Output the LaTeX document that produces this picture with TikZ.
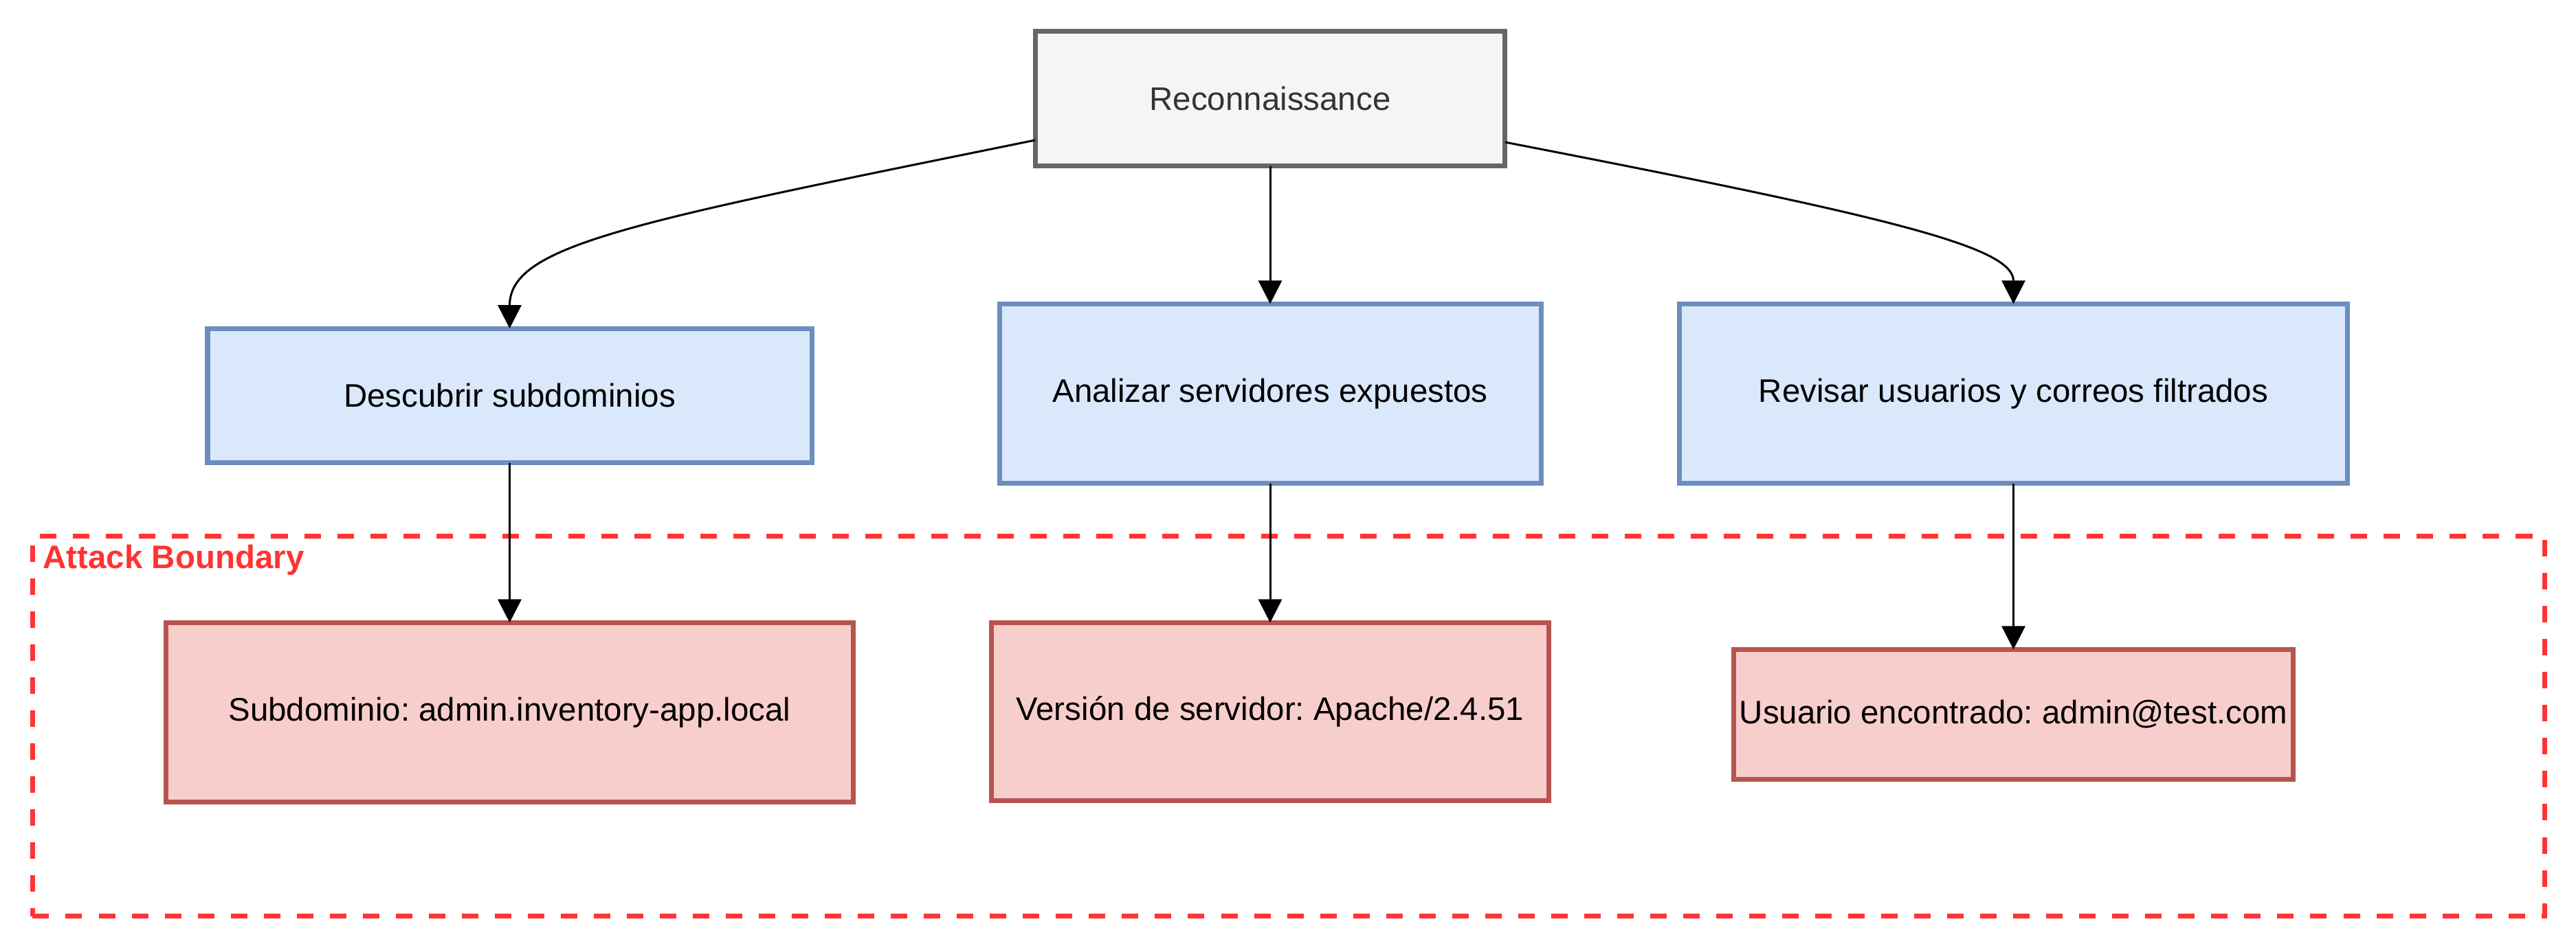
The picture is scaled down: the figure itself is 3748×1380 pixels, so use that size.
\documentclass[tikz,border=0pt]{standalone}
\usepackage{fontspec}
\setmainfont{Liberation Sans}
\usetikzlibrary{arrows.meta}
\definecolor{greyfill}{HTML}{F5F5F5}
\definecolor{greyline}{HTML}{666666}
\definecolor{greytext}{HTML}{333333}
\definecolor{bluefill}{HTML}{DAE8FC}
\definecolor{blueline}{HTML}{6C8EBF}
\definecolor{redfill}{HTML}{F8CECC}
\definecolor{redline}{HTML}{B85450}
\definecolor{boundaryred}{HTML}{FF3333}
\frenchspacing
\begin{document}
\begin{tikzpicture}[x=0.01cm,y=-0.01cm,
  box/.style={rectangle, draw, line width=0.07cm, inner sep=0pt, outer sep=0pt, align=center, font=\fontsize{13.5pt}{16pt}\selectfont},
  root/.style={box, fill=greyfill, draw=greyline, text=greytext},
  task/.style={box, fill=bluefill, draw=blueline, text=black},
  finding/.style={box, fill=redfill, draw=redline, text=black},
  conn/.style={line width=0.03cm, -{Triangle[length=0.34cm,width=0.34cm]}},
  bnd/.style={rectangle, draw=boundaryred, line width=0.07cm, dash pattern=on 0.24cm off 0.24cm, inner sep=0pt, outer sep=0pt}]
\useasboundingbox (0,0) rectangle (3748,1380);
\node[bnd, minimum width=36.53cm, minimum height=5.53cm] (boundary) at (1875,1057) {};
\node[anchor=base west, text=boundaryred, font=\bfseries\fontsize{13.5pt}{16pt}\selectfont, inner sep=0pt] (bndlabel) at (62,828) {Attack Boundary};

\node[root, minimum width=6.835cm, minimum height=1.96cm] (recon) at (1848,143.5) {Reconnaissance};
\node[task, minimum width=8.785cm, minimum height=1.955cm] (desc) at (741.5,576) {Descubrir subdominios};
\node[task, minimum width=7.875cm, minimum height=2.61cm] (anal) at (1848,573) {Analizar servidores expuestos};
\node[task, minimum width=9.72cm, minimum height=2.61cm] (rev) at (2929.5,573) {Revisar usuarios y correos filtrados};
\node[finding, minimum width=9.995cm, minimum height=2.61cm] (sub) at (741.5,1037) {Subdominio: admin.inventory-app.local};
\node[finding, minimum width=8.105cm, minimum height=2.59cm] (ver) at (1848,1036) {Versión de servidor: Apache/2.4.51};
\node[finding, minimum width=8.14cm, minimum height=1.89cm] (usu) at (2929.5,1040) {Usuario encontrado: admin@test.com};

\draw[conn] ([yshift=-0.605cm]recon.west) .. controls (916,324) and (741.5,357) .. (desc.north);
\draw[conn] ([yshift=-0.635cm]recon.east) .. controls (2758,317) and (2929.5,360) .. (rev.north);
\draw[conn] (recon.south) -- (anal.north);
\draw[conn] (desc.south) -- (sub.north);
\draw[conn] (anal.south) -- (ver.north);
\draw[conn] (rev.south) -- (usu.north);
\end{tikzpicture}
\end{document}
